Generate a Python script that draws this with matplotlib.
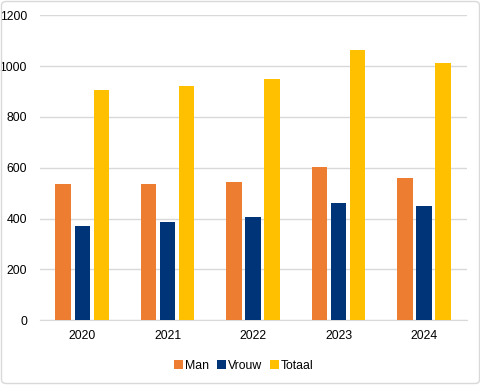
import matplotlib
matplotlib.use("Agg")
import matplotlib.pyplot as plt
import numpy as np
from matplotlib.patches import FancyBboxPatch

years = ["2020", "2021", "2022", "2023", "2024"]
man = [537, 537, 544, 603, 560]
vrouw = [371, 387, 407, 462, 450]
totaal = [907, 922, 950, 1064, 1013]
series_names = ["Man", "Vrouw", "Totaal"]
colors = ["#ED7D31", "#003478", "#FFC000"]

plt.rcParams['font.family'] = ['Liberation Sans', 'DejaVu Sans']

W, H = 481, 385
fig = plt.figure(figsize=(W/100, H/100), dpi=100)
ax = fig.add_axes([39.5/W, 1-320.3/H, (466.7-39.5)/W, (320.3-15.3)/H])

x = np.arange(len(years))
bw = 0.18
step = bw + 0.043
for i, (vals, name, c) in enumerate(zip([man, vrouw, totaal], series_names, colors)):
    ax.bar(x + (i-1)*step, vals, width=bw, color=c, label=name, zorder=3)

ax.set_xlim(-0.5, len(years)-0.5)
ax.set_ylim(0, 1200)
ax.set_yticks(range(0, 1201, 200))
ax.set_xticks(x)
ax.set_xticklabels(years)
ax.grid(axis='y', color='#d9d9d9', linewidth=1, zorder=0)
for s in ['top', 'right', 'left']:
    ax.spines[s].set_visible(False)
ax.spines['bottom'].set_color('#d9d9d9')
ax.tick_params(axis='both', length=0, labelsize=8.8, colors='#000000')
ax.tick_params(axis='y', pad=9)
ax.tick_params(axis='x', pad=7)

leg = fig.legend(loc='center', bbox_to_anchor=(244/W, 1-366/H), ncol=3, frameon=False,
                 fontsize=8.8, handlelength=0.7, handleheight=0.7, handletextpad=0.15,
                 columnspacing=0.7)

frame = FancyBboxPatch((1.5/W, 1.5/H), 1-3/W, 1-3/H, boxstyle="round,pad=0,rounding_size=0.01",
                       transform=fig.transFigure, fill=False, edgecolor='#d9d9d9', linewidth=1)
fig.patches.append(frame)

fig.savefig("out.png", dpi=100)
